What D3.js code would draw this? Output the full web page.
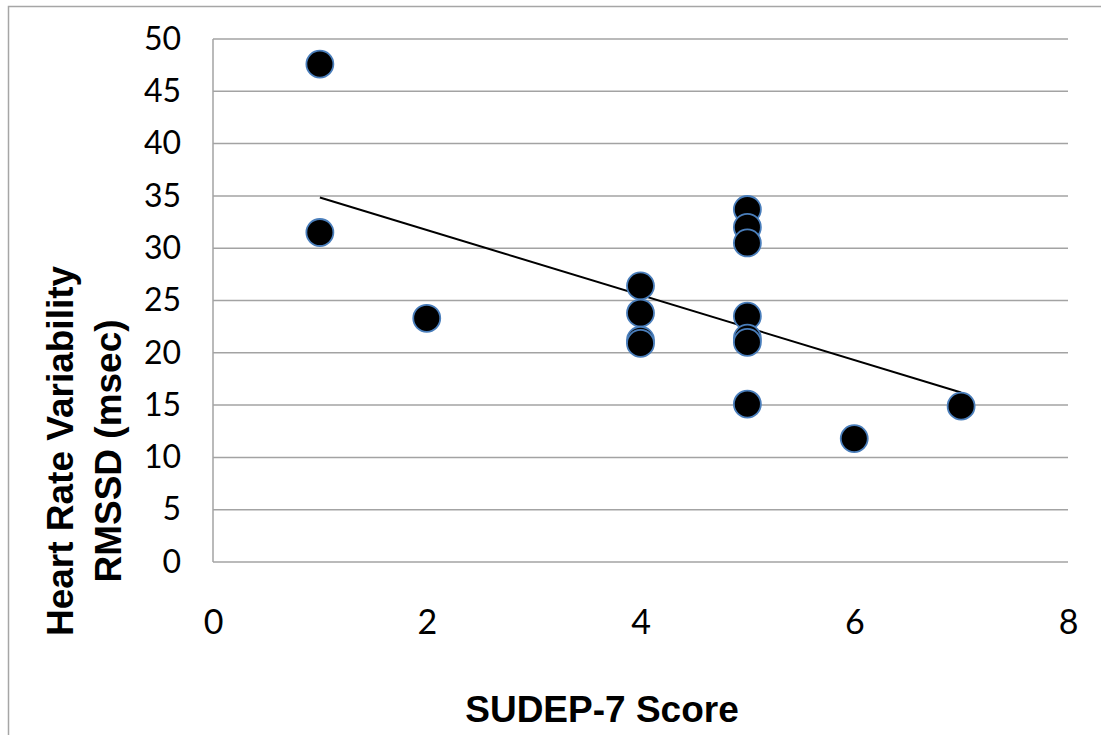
<!DOCTYPE html>
<html>
<head>
<meta charset="utf-8">
<script src="https://cdn.jsdelivr.net/npm/d3@7"></script>
<style>
body { margin: 0; background: #fff; }
</style>
</head>
<body>
<div id="chart"></div>
<script>
// SUDEP-7 score vs heart rate variability (RMSSD)
var sudepScore = [1, 1, 2, 4, 4, 4, 4, 5, 5, 5, 5, 5, 5, 5, 6, 7];
var rmssd = [47.6, 31.5, 23.3, 26.4, 23.8, 21.2, 20.9, 33.7, 32.0, 30.5, 23.5, 21.4, 21.0, 15.1, 11.8, 14.9];
var trendX = [1, 7];
var trendY = [34.85, 16.2];
var xTicks = [0, 2, 4, 6, 8];
var yTicks = [0, 5, 10, 15, 20, 25, 30, 35, 40, 45, 50];

var W = 1101, H = 735;
var plotLeft = 213, plotTop = 39, plotRight = 1068, plotBottom = 562;

var svg = d3.select("#chart").append("svg")
  .attr("width", W)
  .attr("height", H);

// outer frame
svg.append("rect")
  .attr("x", 8.5).attr("y", 6.5)
  .attr("width", W + 10).attr("height", H + 10)
  .attr("fill", "none")
  .attr("stroke", "#a6a6a6")
  .attr("stroke-width", 1.5);

var x = d3.scaleLinear().domain([0, 8]).range([plotLeft, plotRight]);
var y = d3.scaleLinear().domain([0, 50]).range([plotBottom, plotTop]);

// horizontal gridlines
svg.append("g")
  .selectAll("line")
  .data(yTicks)
  .enter()
  .append("line")
    .attr("x1", x(0)).attr("x2", x(8))
    .attr("y1", function(d) { return y(d); })
    .attr("y2", function(d) { return y(d); })
    .attr("stroke", "#a3a3a3")
    .attr("stroke-width", 1.5);

// y axis line
svg.append("line")
  .attr("x1", x(0)).attr("x2", x(0))
  .attr("y1", y(0)).attr("y2", y(50))
  .attr("stroke", "#a3a3a3")
  .attr("stroke-width", 1.5);

var yAxis = svg.append("g")
  .attr("transform", "translate(" + (plotLeft - 32) + ",0)")
  .call(d3.axisLeft(y).tickValues(yTicks).tickSize(0).tickPadding(0));
yAxis.select(".domain").remove();
yAxis.selectAll("text")
  .attr("font-family", "Lato, 'Open Sans', sans-serif")
  .attr("font-size", 32)
  .attr("fill", "#000");

var xAxis = svg.append("g")
  .attr("transform", "translate(0," + (plotBottom + 48) + ")")
  .call(d3.axisBottom(x).tickValues(xTicks).tickSize(0).tickPadding(0));
xAxis.select(".domain").remove();
xAxis.selectAll("text")
  .attr("font-family", "Lato, 'Open Sans', sans-serif")
  .attr("font-size", 34)
  .attr("fill", "#000");

// trendline
svg.append("line")
  .attr("x1", x(trendX[0])).attr("y1", y(trendY[0]))
  .attr("x2", x(trendX[1])).attr("y2", y(trendY[1]))
  .attr("stroke", "#000")
  .attr("stroke-width", 2);

// points
svg.append("g")
  .selectAll("circle")
  .data(sudepScore)
  .enter()
  .append("circle")
    .attr("cx", function(d) { return x(d); })
    .attr("cy", function(d, i) { return y(rmssd[i]); })
    .attr("r", 13.5)
    .attr("fill", "#000")
    .attr("stroke", "#4a7ebb")
    .attr("stroke-width", 1.8);

// axis titles
svg.append("text")
  .attr("x", 602)
  .attr("y", 722)
  .attr("text-anchor", "middle")
  .attr("font-family", "'Liberation Sans', Arial, sans-serif")
  .attr("font-weight", "bold")
  .attr("font-size", 37)
  .text("SUDEP-7 Score");

var yt = svg.append("text")
  .attr("transform", "translate(73,451) rotate(-90)")
  .attr("text-anchor", "middle")
  .attr("font-family", "'Liberation Sans', Arial, sans-serif")
  .attr("font-weight", "bold")
  .attr("font-size", 37);
yt.append("tspan").attr("x", 0).attr("y", 0).text("Heart Rate Variability");
yt.append("tspan").attr("x", 0).attr("y", 48).text("RMSSD (msec)");
</script>
</body>
</html>
